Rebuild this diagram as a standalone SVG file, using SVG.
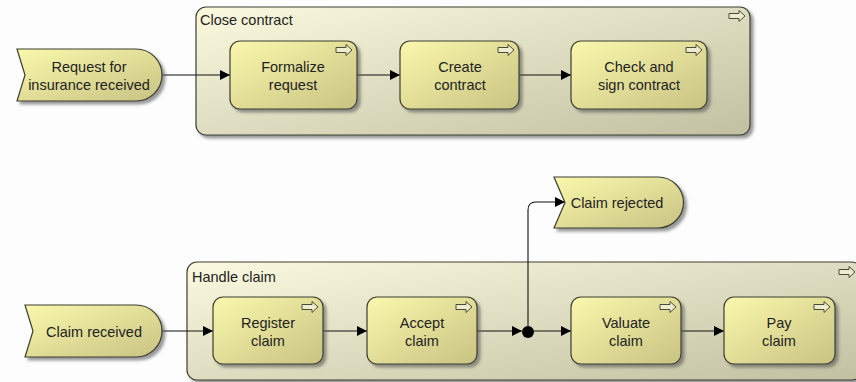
<svg xmlns="http://www.w3.org/2000/svg" width="856" height="382" viewBox="0 0 856 382">
<style>
text{font-family:"Liberation Sans",Arial,sans-serif;font-size:14.5px;fill:#222;}
.c{text-anchor:middle;}
.node{fill:url(#gTask);stroke:#3e3e30;stroke-width:1.2;filter:url(#sh);}
.grp{fill:url(#gGrp);stroke:#3e3e30;stroke-width:1.2;filter:url(#sh);}
.con{fill:none;stroke:#111;stroke-width:1.1;marker-end:url(#ah);}
.ic{fill:#eeeccc;stroke:#4a4a3a;stroke-width:1;}
</style>
<defs>
<linearGradient id="gTask" x1="0" y1="0" x2="1" y2="1">
<stop offset="0" stop-color="#faf8ad"/>
<stop offset="1" stop-color="#c8c382"/>
</linearGradient>
<linearGradient id="gGrp" x1="0" y1="0" x2="1" y2="1">
<stop offset="0" stop-color="#fbfadf"/>
<stop offset="1" stop-color="#c2c0a2"/>
</linearGradient>
<filter id="sh" x="-10%" y="-10%" width="130%" height="140%">
<feDropShadow dx="3" dy="3" stdDeviation="1.5" flood-color="#555" flood-opacity="0.6"/>
</filter>
<marker id="ah" viewBox="0 0 10 10" refX="10" refY="5" markerWidth="10" markerHeight="10" markerUnits="userSpaceOnUse" orient="auto">
<path d="M0,0 L10,5 L0,10 Z" fill="#000"/>
</marker>
<path id="icon" d="M0,-2.5 H10 V-5.5 L16,0 L10,5.5 V2.5 H0 Z"/>
</defs>
<rect width="856" height="382" fill="#fdfdfd"/>

<g id="group-close-contract">
<rect class="grp" x="196" y="7" width="554" height="128" rx="10"/>
<text x="200" y="25">Close contract</text>
<use href="#icon" class="ic" x="729" y="16"/>
</g>
<g id="group-handle-claim">
<rect class="grp" x="187" y="262" width="675" height="118" rx="10"/>
<text x="192" y="282">Handle claim</text>
<use href="#icon" class="ic" x="839" y="272"/>
</g>

<g id="connectors">
<path class="con" d="M162,75 H230"/>
<path class="con" d="M357,75 H400"/>
<path class="con" d="M519,75 H571"/>
<path class="con" d="M162,331 H213"/>
<path class="con" d="M323,331 H367"/>
<path class="con" d="M477,331 H522"/>
<path class="con" d="M534,331 H571"/>
<path class="con" d="M681,331 H724"/>
<path class="con" d="M528,326 V210 Q528,202 536,202 H565"/>
</g>

<g id="ev-request">
<path class="node" d="M17,49 H136 A26,26 0 0 1 136,101 H17 L25,75 Z"/>
<text class="c" x="89" y="72">Request for</text>
<text class="c" x="89" y="90">insurance received</text>
</g>
<g id="t-formalize">
<rect class="node" x="230" y="41" width="127" height="68" rx="10"/>
<use href="#icon" class="ic" x="336" y="50"/>
<text class="c" x="293" y="72">Formalize</text>
<text class="c" x="293" y="90">request</text>
</g>
<g id="t-create">
<rect class="node" x="400" y="41" width="119" height="68" rx="10"/>
<use href="#icon" class="ic" x="498" y="50"/>
<text class="c" x="460" y="72">Create</text>
<text class="c" x="460" y="90">contract</text>
</g>
<g id="t-check">
<rect class="node" x="571" y="41" width="136" height="68" rx="10"/>
<use href="#icon" class="ic" x="686" y="50"/>
<text class="c" x="639" y="72">Check and</text>
<text class="c" x="639" y="90">sign contract</text>
</g>

<g id="ev-claim-received">
<path class="node" d="M25,305 H136 A26,26 0 0 1 136,357 H25 L33,331 Z"/>
<text class="c" x="94" y="337">Claim received</text>
</g>
<g id="ev-claim-rejected">
<path class="node" d="M554,177 H658 A25.5,25.5 0 0 1 658,228 H554 L565,202.5 Z"/>
<text class="c" x="617" y="208">Claim rejected</text>
</g>
<g id="t-register">
<rect class="node" x="213" y="297" width="110" height="67" rx="10"/>
<use href="#icon" class="ic" x="302" y="307"/>
<text class="c" x="268" y="328">Register</text>
<text class="c" x="268" y="346">claim</text>
</g>
<g id="t-accept">
<rect class="node" x="367" y="297" width="110" height="67" rx="10"/>
<use href="#icon" class="ic" x="456" y="307"/>
<text class="c" x="422" y="328">Accept</text>
<text class="c" x="422" y="346">claim</text>
</g>
<g id="junction">
<circle cx="528" cy="332" r="6" fill="#000"/>
</g>
<g id="t-valuate">
<rect class="node" x="571" y="297" width="110" height="67" rx="10"/>
<use href="#icon" class="ic" x="660" y="307"/>
<text class="c" x="626" y="328">Valuate</text>
<text class="c" x="626" y="346">claim</text>
</g>
<g id="t-pay">
<rect class="node" x="724" y="297" width="111" height="67" rx="10"/>
<use href="#icon" class="ic" x="814" y="307"/>
<text class="c" x="779" y="328">Pay</text>
<text class="c" x="779" y="346">claim</text>
</g>
</svg>
